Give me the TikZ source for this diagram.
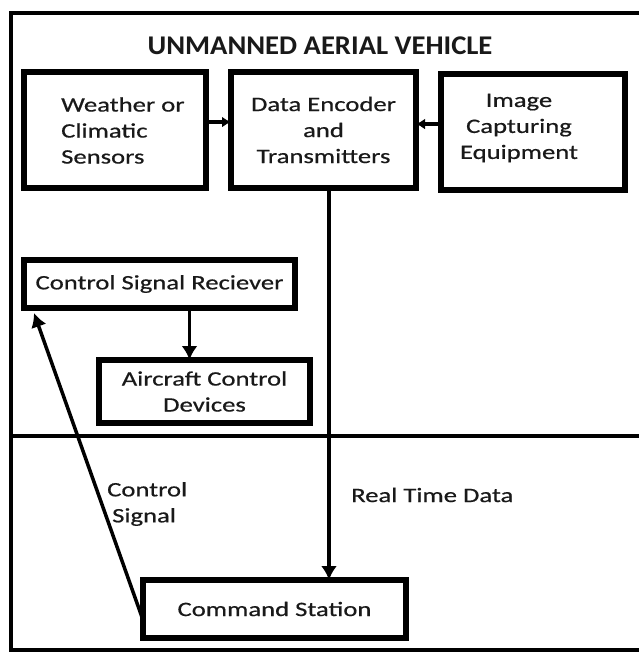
\documentclass[tikz,border=0pt]{standalone}
\usepackage{fontspec}
\setmainfont{Carlito}[FakeStretch=1.3, FakeBold=0.6]
\newfontfamily\mytitlefont{Carlito}[FakeStretch=1.06]
\usetikzlibrary{arrows.meta}
\newcommand\mybodyfont{\fontsize{20.5}{26}\selectfont}
\begin{document}
\begin{tikzpicture}[x=1pt,y=-1pt,
  frame/.style={line width=4pt, draw=black},
  box/.style={draw=black, line width=5.5pt, inner sep=0pt, outer sep=0pt, align=center, font=\mybodyfont, text=black!90},
  lbl/.style={inner sep=0pt, font=\mybodyfont, text=black!90},
  arr/.style={line width=3.5pt, -{Latex[length=14pt,width=16pt]}},
  sarr/.style={line width=4.5pt, -{Latex[length=9pt,width=11pt]}}]
\useasboundingbox (0,0) rectangle (639,654);
\fill[white] (0,0) rectangle (639,654);
% outer frame and divider
\draw[frame] (645,12.5) -- (11,12.5) -- (11,650) -- (645,650);
\draw[frame] (11,435.5) -- (645,435.5);
\node[inner sep=0pt, text=black!90, font=\mytitlefont\fontsize{27}{30}\selectfont\bfseries] (title) at (320,46) {UNMANNED AERIAL VEHICLE};
% boxes
\node[box, minimum width=182pt, minimum height=116pt] (w) at (115,130) {};
\node[lbl, align=left, anchor=west] (wtxt) at (61,130.5) {Weather or\\Climatic\\Sensors};
\node[box, minimum width=185pt, minimum height=116pt] (data) at (323.5,130) {Data Encoder\\and\\Transmitters};
\node[box, minimum width=184pt, minimum height=116pt] (img) at (533,132) {};
\node[lbl, align=center] (imgtxt) at (519,128) {Image\\Capturing\\Equipment};
\node[box, minimum width=271pt, minimum height=48pt] (csr) at (159.5,284) {Control Signal Reciever};
\node[box, minimum width=211pt, minimum height=63pt] (acd) at (204.5,391.5) {Aircraft Control\\Devices};
\node[box, minimum width=263pt, minimum height=58pt] (cs) at (274.5,609) {Command Station};
% labels
\node[lbl, align=left, anchor=west] (cslbl) at (107,504) {Control\\\hspace*{5pt}Signal};
\node[lbl, anchor=west] (rtd) at (351,495) {Real Time Data};
% connectors
\coordinate (c1) at ([xshift=30pt]csr.south);
\draw[arr] (c1) -- (c1 |- acd.north);
\coordinate (c2) at ([xshift=5.5pt]data.south);
\draw[arr] (c2) -- (c2 |- cs.north);
\coordinate (c3) at ([yshift=8pt]w.east);
\draw[sarr] (c3) -- (c3 -| data.west);
\coordinate (c4) at ([yshift=8pt]img.west);
\draw[sarr] (c4) -- (c4 -| data.east);
\draw[arr] ([yshift=18pt]cs.south west) -- ([xshift=10pt,yshift=-5pt]csr.south west);
\end{tikzpicture}
\end{document}
